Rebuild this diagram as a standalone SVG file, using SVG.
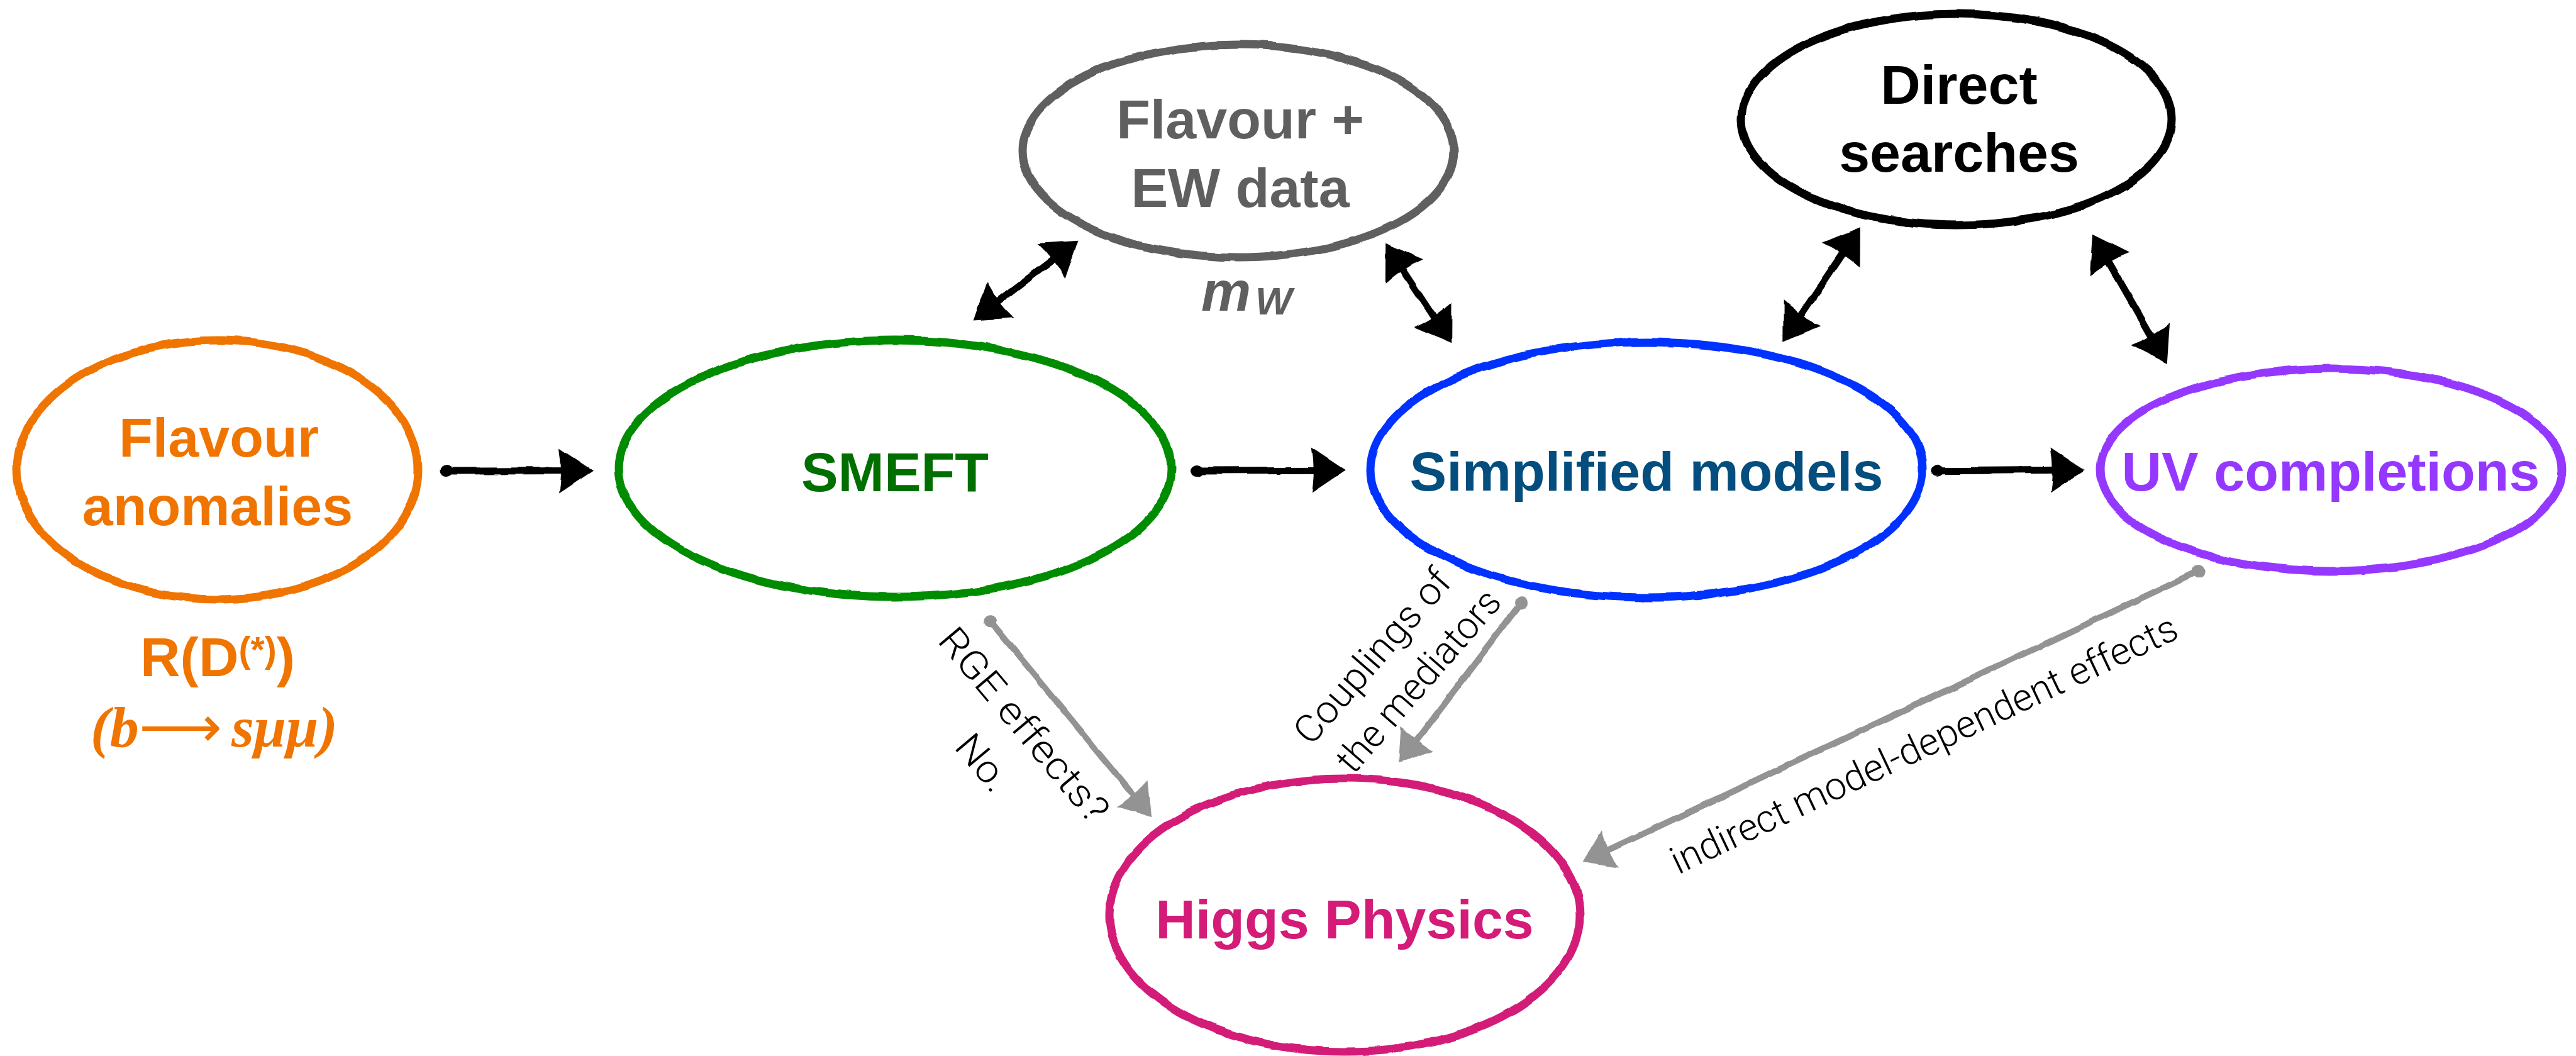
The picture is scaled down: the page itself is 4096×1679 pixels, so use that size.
<svg xmlns="http://www.w3.org/2000/svg" width="4096" height="1679" viewBox="0 0 4096 1679">
<defs>
<style>
.lbl{font-family:'Liberation Sans',Arial,sans-serif;font-weight:bold;font-size:88px;text-anchor:middle}
.ell{fill:none;stroke-width:13}
.thin{font-family:Roboto,Inter,'Open Sans',Lato,sans-serif;font-weight:300;font-size:61px;fill:#000;text-anchor:middle}
.blk{fill:none;stroke:#000;stroke-width:11;stroke-linecap:round}
.gry{fill:none;stroke:#939393;stroke-width:10;stroke-linecap:round}
.frm{fill:#f07400;font-family:'Liberation Serif','Times New Roman',serif;font-style:italic;font-weight:bold;font-size:92px}
</style>
<filter id="rough" filterUnits="userSpaceOnUse" x="0" y="0" width="4096" height="1679">
<feTurbulence type="fractalNoise" baseFrequency="0.022" numOctaves="2" seed="4"/>
<feDisplacementMap in="SourceGraphic" scale="6" xChannelSelector="R" yChannelSelector="G"/>
</filter>
<marker id="hb" markerUnits="userSpaceOnUse" viewBox="-30 -40 65 80" refX="0" refY="0" markerWidth="65" markerHeight="80" orient="auto-start-reverse">
<path d="M-24,-36 L30,0 L-24,36 Q-18,0 -24,-36 Z" fill="#000"/>
</marker>
<marker id="tb" markerUnits="userSpaceOnUse" viewBox="-12 -12 24 24" refX="0" refY="0" markerWidth="24" markerHeight="24" orient="auto">
<ellipse cx="0" cy="0" rx="10" ry="9" fill="#000"/>
</marker>
<marker id="hg" markerUnits="userSpaceOnUse" viewBox="-30 -40 65 80" refX="0" refY="0" markerWidth="65" markerHeight="80" orient="auto">
<path d="M-22,-33 L27,0 L-22,33 Q-16,0 -22,-33 Z" fill="#939393"/>
</marker>
<marker id="tg" markerUnits="userSpaceOnUse" viewBox="-13 -13 26 26" refX="0" refY="0" markerWidth="26" markerHeight="26" orient="auto">
<circle cx="0" cy="0" r="10" fill="#939393"/>
</marker>
</defs>
<rect width="4096" height="1679" fill="#fff"/>

<g id="connectors">
<g filter="url(#rough)">
<path class="blk" d="M710.5,749 L913,748.5" marker-start="url(#tb)" marker-end="url(#hb)"/>
<path class="blk" d="M1903,748 L2109.8,747.3" marker-start="url(#tb)" marker-end="url(#hb)"/>
<path class="blk" d="M3080.4,748.8 L3284.8,747.3" marker-start="url(#tb)" marker-end="url(#hb)"/>
<path class="blk" d="M1571.5,491.3 L1690.7,400.1" marker-start="url(#hb)" marker-end="url(#hb)"/>
<path class="blk" d="M2219.7,411.9 L2291.7,521.2" marker-start="url(#hb)" marker-end="url(#hb)"/>
<path class="blk" d="M2852.1,518 L2941.1,386" marker-start="url(#hb)" marker-end="url(#hb)"/>
<path class="blk" d="M3343,398.8 L3430.8,551.9" marker-start="url(#hb)" marker-end="url(#hb)"/>
<path class="gry" d="M1574.4,987.3 L1814,1278.4" marker-start="url(#tg)" marker-end="url(#hg)"/>
<path class="gry" d="M2419.1,958.2 L2240.4,1191.9" marker-start="url(#tg)" marker-end="url(#hg)"/>
<path class="gry" d="M3495.7,908.1 L2541.1,1359.4" marker-start="url(#tg)" marker-end="url(#hg)"/>
</g>
<text class="thin" transform="translate(1612,1166) rotate(50)" textLength="383" lengthAdjust="spacingAndGlyphs">RGE effects?</text>
<text class="thin" transform="translate(1547,1226) rotate(50)" textLength="98" lengthAdjust="spacingAndGlyphs">No.</text>
<text class="thin" transform="translate(2198,1057) rotate(-49)" textLength="346" lengthAdjust="spacingAndGlyphs">Couplings of</text>
<text class="thin" transform="translate(2271,1096) rotate(-49)" textLength="363" lengthAdjust="spacingAndGlyphs">the mediators</text>
<text class="thin" transform="translate(3068,1202) rotate(-25.3)" textLength="884" lengthAdjust="spacingAndGlyphs">indirect model-dependent effects</text>
</g>

<g id="flavour-anomalies">
<ellipse class="ell" cx="346" cy="747" rx="319" ry="206" stroke="#f07400" filter="url(#rough)"/>
<text class="lbl" fill="#f07400" x="348" y="726">Flavour</text>
<text class="lbl" fill="#f07400" x="346" y="835">anomalies</text>
<text class="lbl" fill="#f07400" x="346" y="1075">R(D<tspan font-size="57" dy="-22">(*)</tspan><tspan dy="22">)</tspan></text>
<text class="frm" x="144" y="1187">(b<tspan font-style="normal" font-weight="normal">⟶</tspan><tspan x="368">sμμ)</tspan></text>
</g>

<g id="smeft">
<ellipse class="ell" cx="1423" cy="745" rx="439" ry="204" stroke="#008c00" filter="url(#rough)"/>
<text class="lbl" fill="#006f00" x="1423" y="781">SMEFT</text>
</g>

<g id="flavour-ew-data">
<ellipse class="ell" cx="1969" cy="240" rx="343" ry="169" stroke="#5f5f5f" filter="url(#rough)"/>
<text class="lbl" fill="#5f5f5f" x="1972" y="220">Flavour +</text>
<text class="lbl" fill="#5f5f5f" x="1972" y="329">EW data</text>
<text fill="#5f5f5f" x="1910" y="494" font-family="'Liberation Sans',Arial,sans-serif" font-style="italic" font-weight="bold" font-size="89">m<tspan x="1996" dy="6" font-size="62">W</tspan></text>
</g>

<g id="simplified-models">
<ellipse class="ell" cx="2618" cy="747" rx="439" ry="203" stroke="#0033ff" filter="url(#rough)"/>
<text class="lbl" fill="#034e7e" x="2618" y="780">Simplified models</text>
</g>

<g id="direct-searches">
<ellipse class="ell" cx="3111" cy="190" rx="342" ry="168" stroke="#000" filter="url(#rough)"/>
<text class="lbl" fill="#000" x="3115" y="165">Direct</text>
<text class="lbl" fill="#000" x="3115" y="273">searches</text>
</g>

<g id="uv-completions">
<ellipse class="ell" cx="3706" cy="747" rx="367" ry="161" stroke="#9538ff" filter="url(#rough)"/>
<text class="lbl" fill="#9538ff" x="3706" y="780">UV completions</text>
</g>

<g id="higgs-physics">
<ellipse class="ell" cx="2138" cy="1455" rx="374" ry="217" stroke="#d31b77" filter="url(#rough)"/>
<text class="lbl" fill="#d31b77" x="2138" y="1492">Higgs Physics</text>
</g>
</svg>
